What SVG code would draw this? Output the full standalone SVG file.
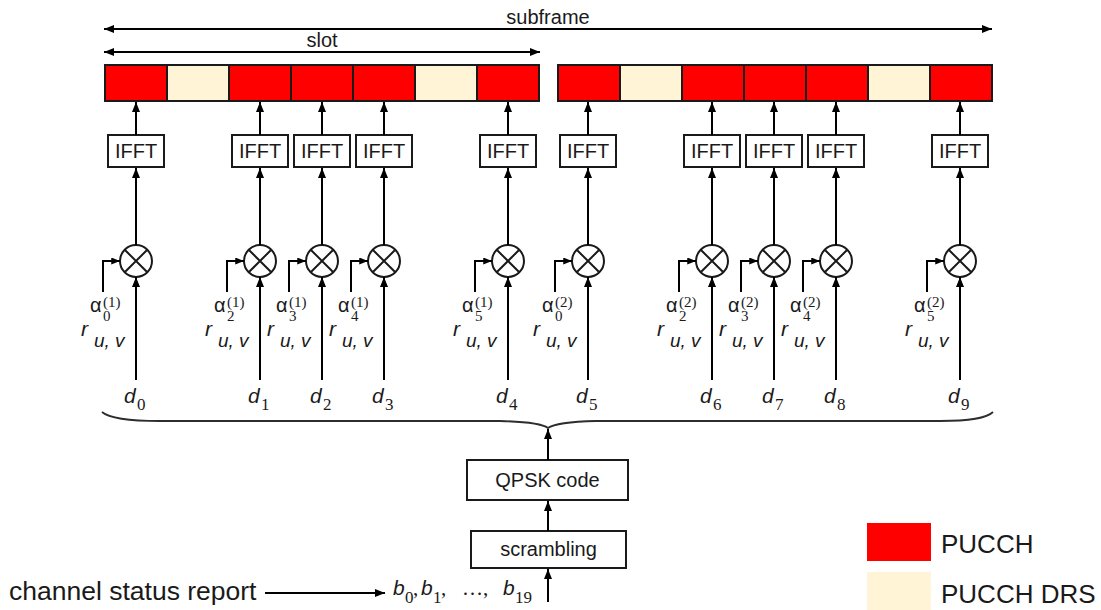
<svg xmlns="http://www.w3.org/2000/svg" width="1101" height="610" viewBox="0 0 1101 610">
<defs>
<style>
.ln{stroke:#000;stroke-width:2;fill:none}
.cell{stroke:#1a1a1a;stroke-width:2}
.pu{fill:#ff0000}
.drs{fill:#fff5d6}
.box{fill:#fff;stroke:#1a1a1a;stroke-width:2}
.sans{font-family:"Liberation Sans",Arial,sans-serif;fill:#1a1a1a}
.mi{font-family:"Liberation Sans",Arial,sans-serif;font-style:italic;fill:#1a1a1a;font-size:21px}
.uv{font-family:"Liberation Sans",Arial,sans-serif;font-style:italic;fill:#1a1a1a;font-size:19px}
.gr{font-family:"Liberation Sans",Arial,sans-serif;fill:#1a1a1a;font-size:20px}
.sup{font-family:"Liberation Serif","Times New Roman",serif;fill:#1a1a1a;font-size:15px}
.sub{font-family:"Liberation Serif","Times New Roman",serif;fill:#1a1a1a;font-size:17px}
.pn{font-family:"Liberation Serif","Times New Roman",serif;fill:#1a1a1a;font-size:21px}
.mul{fill:#fff;stroke:#1a1a1a;stroke-width:2}
.x{stroke:#1a1a1a;stroke-width:2}
</style>
<marker id="ah" viewBox="0 0 10 8" refX="10" refY="4" markerWidth="10" markerHeight="8" markerUnits="userSpaceOnUse" orient="auto-start-reverse">
<path d="M0,0 L10,4 L0,8 z" fill="#000"/>
</marker>
<marker id="ahs" viewBox="0 0 10 8" refX="10" refY="4" markerWidth="9" markerHeight="7" markerUnits="userSpaceOnUse" orient="auto">
<path d="M0,0 L10,4 L0,8 z" fill="#000"/>
</marker>
</defs>
<rect width="1101" height="610" fill="#fff"/>

<g id="span-labels">
<text class="sans" x="548" y="24" font-size="20" text-anchor="middle">subframe</text>
<text class="sans" x="322" y="47" font-size="20" text-anchor="middle">slot</text>
</g>

<g id="slot1-cells">
<rect class="cell pu" x="105" y="65" width="62" height="36"/>
<rect class="cell drs" x="167" y="65" width="62" height="36"/>
<rect class="cell pu" x="229" y="65" width="62" height="36"/>
<rect class="cell pu" x="291" y="65" width="62" height="36"/>
<rect class="cell pu" x="353" y="65" width="62" height="36"/>
<rect class="cell drs" x="415" y="65" width="62" height="36"/>
<rect class="cell pu" x="477" y="65" width="62" height="36"/>
</g>
<g id="slot2-cells">
<rect class="cell pu" x="558" y="65" width="62" height="36"/>
<rect class="cell drs" x="620" y="65" width="62" height="36"/>
<rect class="cell pu" x="682" y="65" width="62" height="36"/>
<rect class="cell pu" x="744" y="65" width="62" height="36"/>
<rect class="cell pu" x="806" y="65" width="62" height="36"/>
<rect class="cell drs" x="868" y="65" width="62" height="36"/>
<rect class="cell pu" x="930" y="65" width="62" height="36"/>
</g>

<g id="col0">
<rect class="box" x="108" y="135" width="56" height="32"/><text class="sans" x="136" y="158" font-size="20" text-anchor="middle">IFFT</text>
<circle class="mul" cx="136" cy="261" r="16"/><path class="x" d="M124.7,249.7 L147.3,272.3 M147.3,249.7 L124.7,272.3"/>
<text class="gr" x="90" y="312">α</text><text class="sup" x="103" y="321">0</text><text class="sup" x="103" y="307">(1)</text>
<text class="mi" x="81" y="336">r</text><text class="uv" x="94" y="347">u, v</text>
<text class="mi" x="124" y="403">d</text><text class="sub" x="137" y="410">0</text>
</g>
<g id="col1">
<rect class="box" x="232" y="135" width="56" height="32"/><text class="sans" x="260" y="158" font-size="20" text-anchor="middle">IFFT</text>
<circle class="mul" cx="260" cy="261" r="16"/><path class="x" d="M248.7,249.7 L271.3,272.3 M271.3,249.7 L248.7,272.3"/>
<text class="gr" x="214" y="312">α</text><text class="sup" x="227" y="321">2</text><text class="sup" x="227" y="307">(1)</text>
<text class="mi" x="205" y="336">r</text><text class="uv" x="218" y="347">u, v</text>
<text class="mi" x="248" y="403">d</text><text class="sub" x="261" y="410">1</text>
</g>
<g id="col2">
<rect class="box" x="294" y="135" width="56" height="32"/><text class="sans" x="322" y="158" font-size="20" text-anchor="middle">IFFT</text>
<circle class="mul" cx="322" cy="261" r="16"/><path class="x" d="M310.7,249.7 L333.3,272.3 M333.3,249.7 L310.7,272.3"/>
<text class="gr" x="276" y="312">α</text><text class="sup" x="289" y="321">3</text><text class="sup" x="289" y="307">(1)</text>
<text class="mi" x="267" y="336">r</text><text class="uv" x="280" y="347">u, v</text>
<text class="mi" x="310" y="403">d</text><text class="sub" x="323" y="410">2</text>
</g>
<g id="col3">
<rect class="box" x="356" y="135" width="56" height="32"/><text class="sans" x="384" y="158" font-size="20" text-anchor="middle">IFFT</text>
<circle class="mul" cx="384" cy="261" r="16"/><path class="x" d="M372.7,249.7 L395.3,272.3 M395.3,249.7 L372.7,272.3"/>
<text class="gr" x="338" y="312">α</text><text class="sup" x="351" y="321">4</text><text class="sup" x="351" y="307">(1)</text>
<text class="mi" x="329" y="336">r</text><text class="uv" x="342" y="347">u, v</text>
<text class="mi" x="372" y="403">d</text><text class="sub" x="385" y="410">3</text>
</g>
<g id="col4">
<rect class="box" x="480" y="135" width="56" height="32"/><text class="sans" x="508" y="158" font-size="20" text-anchor="middle">IFFT</text>
<circle class="mul" cx="508" cy="261" r="16"/><path class="x" d="M496.7,249.7 L519.3,272.3 M519.3,249.7 L496.7,272.3"/>
<text class="gr" x="462" y="312">α</text><text class="sup" x="475" y="321">5</text><text class="sup" x="475" y="307">(1)</text>
<text class="mi" x="453" y="336">r</text><text class="uv" x="466" y="347">u, v</text>
<text class="mi" x="496" y="403">d</text><text class="sub" x="509" y="410">4</text>
</g>
<g id="col5">
<rect class="box" x="560" y="135" width="56" height="32"/><text class="sans" x="588" y="158" font-size="20" text-anchor="middle">IFFT</text>
<circle class="mul" cx="588" cy="261" r="16"/><path class="x" d="M576.7,249.7 L599.3,272.3 M599.3,249.7 L576.7,272.3"/>
<text class="gr" x="542" y="312">α</text><text class="sup" x="555" y="321">0</text><text class="sup" x="555" y="307">(2)</text>
<text class="mi" x="533" y="336">r</text><text class="uv" x="546" y="347">u, v</text>
<text class="mi" x="576" y="403">d</text><text class="sub" x="589" y="410">5</text>
</g>
<g id="col6">
<rect class="box" x="684" y="135" width="56" height="32"/><text class="sans" x="712" y="158" font-size="20" text-anchor="middle">IFFT</text>
<circle class="mul" cx="712" cy="261" r="16"/><path class="x" d="M700.7,249.7 L723.3,272.3 M723.3,249.7 L700.7,272.3"/>
<text class="gr" x="666" y="312">α</text><text class="sup" x="679" y="321">2</text><text class="sup" x="679" y="307">(2)</text>
<text class="mi" x="657" y="336">r</text><text class="uv" x="670" y="347">u, v</text>
<text class="mi" x="700" y="403">d</text><text class="sub" x="713" y="410">6</text>
</g>
<g id="col7">
<rect class="box" x="746" y="135" width="56" height="32"/><text class="sans" x="774" y="158" font-size="20" text-anchor="middle">IFFT</text>
<circle class="mul" cx="774" cy="261" r="16"/><path class="x" d="M762.7,249.7 L785.3,272.3 M785.3,249.7 L762.7,272.3"/>
<text class="gr" x="728" y="312">α</text><text class="sup" x="741" y="321">3</text><text class="sup" x="741" y="307">(2)</text>
<text class="mi" x="719" y="336">r</text><text class="uv" x="732" y="347">u, v</text>
<text class="mi" x="762" y="403">d</text><text class="sub" x="775" y="410">7</text>
</g>
<g id="col8">
<rect class="box" x="808" y="135" width="56" height="32"/><text class="sans" x="836" y="158" font-size="20" text-anchor="middle">IFFT</text>
<circle class="mul" cx="836" cy="261" r="16"/><path class="x" d="M824.7,249.7 L847.3,272.3 M847.3,249.7 L824.7,272.3"/>
<text class="gr" x="790" y="312">α</text><text class="sup" x="803" y="321">4</text><text class="sup" x="803" y="307">(2)</text>
<text class="mi" x="781" y="336">r</text><text class="uv" x="794" y="347">u, v</text>
<text class="mi" x="824" y="403">d</text><text class="sub" x="837" y="410">8</text>
</g>
<g id="col9">
<rect class="box" x="932" y="135" width="56" height="32"/><text class="sans" x="960" y="158" font-size="20" text-anchor="middle">IFFT</text>
<circle class="mul" cx="960" cy="261" r="16"/><path class="x" d="M948.7,249.7 L971.3,272.3 M971.3,249.7 L948.7,272.3"/>
<text class="gr" x="914" y="312">α</text><text class="sup" x="927" y="321">5</text><text class="sup" x="927" y="307">(2)</text>
<text class="mi" x="905" y="336">r</text><text class="uv" x="918" y="347">u, v</text>
<text class="mi" x="948" y="403">d</text><text class="sub" x="961" y="410">9</text>
</g>

<g id="qpsk">
<rect class="box" x="467" y="460" width="161" height="40"/>
<text class="sans" x="547.5" y="487" font-size="20" text-anchor="middle">QPSK code</text>
</g>
<g id="scrambling">
<rect class="box" x="471" y="531" width="155" height="37"/>
<text class="sans" x="548.5" y="556" font-size="20" text-anchor="middle">scrambling</text>
</g>
<g id="input">
<text class="sans" x="9" y="600" font-size="26.5">channel status report</text>
</g>
<g id="bits">
<text class="mi" x="393" y="595">b</text><text class="sub" x="405" y="603">0</text><text class="pn" x="413" y="595">,</text>
<text class="mi" x="421" y="595">b</text><text class="sub" x="433" y="603">1</text><text class="pn" x="441" y="595">,</text>
<text class="pn" x="462" y="595">…,</text>
<text class="mi" x="503" y="595">b</text><text class="sub" x="515" y="603">19</text>
</g>
<g id="legend">
<rect x="867" y="523" width="64" height="38" fill="#ff0000"/>
<text class="sans" x="941" y="553" font-size="26">PUCCH</text>
<rect x="867" y="572" width="64" height="38" fill="#fff5d6"/>
<text class="sans" x="941" y="603" font-size="26">PUCCH DRS</text>
</g>

<g id="connectors">
<path class="ln" d="M104,29 H992" marker-start="url(#ah)" marker-end="url(#ah)"/>
<path class="ln" d="M104,52 H540" marker-start="url(#ah)" marker-end="url(#ah)"/>
<path class="ln" d="M136,135 V102" marker-end="url(#ah)"/>
<path class="ln" d="M260,135 V102" marker-end="url(#ah)"/>
<path class="ln" d="M322,135 V102" marker-end="url(#ah)"/>
<path class="ln" d="M384,135 V102" marker-end="url(#ah)"/>
<path class="ln" d="M508,135 V102" marker-end="url(#ah)"/>
<path class="ln" d="M588,135 V102" marker-end="url(#ah)"/>
<path class="ln" d="M712,135 V102" marker-end="url(#ah)"/>
<path class="ln" d="M774,135 V102" marker-end="url(#ah)"/>
<path class="ln" d="M836,135 V102" marker-end="url(#ah)"/>
<path class="ln" d="M960,135 V102" marker-end="url(#ah)"/>
<path class="ln" d="M136,245 V168" marker-end="url(#ah)"/>
<path class="ln" d="M260,245 V168" marker-end="url(#ah)"/>
<path class="ln" d="M322,245 V168" marker-end="url(#ah)"/>
<path class="ln" d="M384,245 V168" marker-end="url(#ah)"/>
<path class="ln" d="M508,245 V168" marker-end="url(#ah)"/>
<path class="ln" d="M588,245 V168" marker-end="url(#ah)"/>
<path class="ln" d="M712,245 V168" marker-end="url(#ah)"/>
<path class="ln" d="M774,245 V168" marker-end="url(#ah)"/>
<path class="ln" d="M836,245 V168" marker-end="url(#ah)"/>
<path class="ln" d="M960,245 V168" marker-end="url(#ah)"/>
<path class="ln" d="M136,380 V277" marker-end="url(#ah)"/>
<path class="ln" d="M260,380 V277" marker-end="url(#ah)"/>
<path class="ln" d="M322,380 V277" marker-end="url(#ah)"/>
<path class="ln" d="M384,380 V277" marker-end="url(#ah)"/>
<path class="ln" d="M508,380 V277" marker-end="url(#ah)"/>
<path class="ln" d="M588,380 V277" marker-end="url(#ah)"/>
<path class="ln" d="M712,380 V277" marker-end="url(#ah)"/>
<path class="ln" d="M774,380 V277" marker-end="url(#ah)"/>
<path class="ln" d="M836,380 V277" marker-end="url(#ah)"/>
<path class="ln" d="M960,380 V277" marker-end="url(#ah)"/>
<path class="ln" d="M103,292 V261 H120" marker-end="url(#ahs)"/>
<path class="ln" d="M227,292 V261 H244" marker-end="url(#ahs)"/>
<path class="ln" d="M289,292 V261 H306" marker-end="url(#ahs)"/>
<path class="ln" d="M351,292 V261 H368" marker-end="url(#ahs)"/>
<path class="ln" d="M475,292 V261 H492" marker-end="url(#ahs)"/>
<path class="ln" d="M555,292 V261 H572" marker-end="url(#ahs)"/>
<path class="ln" d="M679,292 V261 H696" marker-end="url(#ahs)"/>
<path class="ln" d="M741,292 V261 H758" marker-end="url(#ahs)"/>
<path class="ln" d="M803,292 V261 H820" marker-end="url(#ahs)"/>
<path class="ln" d="M927,292 V261 H944" marker-end="url(#ahs)"/>
<path d="M102,412 Q112,421 160,421 L500,421 Q540,422 548,428 Q556,422 596,421 L940,421 Q984,421 993,412" fill="none" stroke="#2a2f2a" stroke-width="1.8"/>
<path class="ln" d="M548,460 V429" marker-end="url(#ah)"/>
<path class="ln" d="M548,531 V501" marker-end="url(#ah)"/>
<path class="ln" d="M548,602 V569" marker-end="url(#ah)"/>
<path class="ln" d="M265,593 H385" marker-end="url(#ah)"/>
</g>
</svg>
